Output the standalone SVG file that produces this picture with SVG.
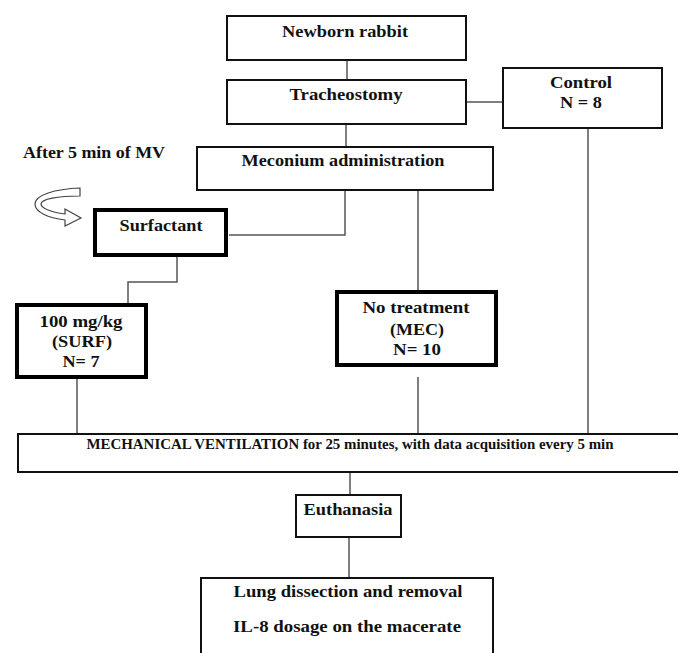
<svg xmlns="http://www.w3.org/2000/svg" width="678" height="653" viewBox="0 0 678 653">
<style>
.box{fill:#fff;stroke:#111;stroke-width:2}
.thick{fill:#fff;stroke:#000;stroke-width:4}
.c{fill:none;stroke:#555;stroke-width:1.5}
text{font-family:"Liberation Serif","Times New Roman",serif;font-weight:bold;font-size:16px;fill:#111;text-anchor:middle}
.mv{font-size:14px}
</style>
<rect width="678" height="653" fill="#fff"/>
<g id="connectors">
<path class="c" d="M347,61V79"/>
<path class="c" d="M467,102H502"/>
<path class="c" d="M346,125V146"/>
<path class="c" d="M345,191V235H229"/>
<path class="c" d="M418,191V290"/>
<path class="c" d="M588,129V433"/>
<path class="c" d="M177,257V282H128V303"/>
<path class="c" d="M77,379V433"/>
<path class="c" d="M418,377V433"/>
<path class="c" d="M350,473V494"/>
<path class="c" d="M349,538V577"/>
</g>
<g id="newborn"><rect class="box" x="227" y="16" width="239" height="44"/><text x="345" y="37" textLength="126" lengthAdjust="spacingAndGlyphs">Newborn rabbit</text></g>
<g id="tracheostomy"><rect class="box" x="227" y="80" width="239" height="44"/><text x="346" y="100" textLength="113" lengthAdjust="spacingAndGlyphs">Tracheostomy</text></g>
<g id="control"><rect class="box" x="503" y="68" width="159" height="60"/><text x="581" y="88" textLength="62" lengthAdjust="spacingAndGlyphs">Control</text><text x="581" y="108" textLength="42" lengthAdjust="spacingAndGlyphs">N = 8</text></g>
<g id="meconium"><rect class="box" x="197" y="147" width="296" height="43"/><text x="343" y="166" textLength="203" lengthAdjust="spacingAndGlyphs">Meconium administration</text></g>
<g id="after-label"><text x="94" y="158" textLength="142" lengthAdjust="spacingAndGlyphs">After 5 min of MV</text>
<path d="M80,188 C55,189 35,195 35,204 C35,212 48,218 65,220 L65,226 L81,218 L65,209 L65,214 C50,212 41,208 41,204 C41,199 58,196 80,196 Z" fill="#fff" stroke="#444" stroke-width="1.2"/></g>
<g id="surfactant"><rect class="thick" x="95" y="210" width="131" height="45"/><text x="161" y="231" textLength="83" lengthAdjust="spacingAndGlyphs">Surfactant</text></g>
<g id="surf"><rect class="thick" x="17" y="305" width="129" height="72"/><text x="81" y="327" textLength="83" lengthAdjust="spacingAndGlyphs">100 mg/kg</text><text x="82" y="347" textLength="60" lengthAdjust="spacingAndGlyphs">(SURF)</text><text x="81" y="367" textLength="37" lengthAdjust="spacingAndGlyphs">N= 7</text></g>
<g id="mec"><rect class="thick" x="337" y="292" width="159" height="73"/><text x="416" y="313" textLength="107" lengthAdjust="spacingAndGlyphs">No treatment</text><text x="417" y="335" textLength="54" lengthAdjust="spacingAndGlyphs">(MEC)</text><text x="417" y="355" textLength="48" lengthAdjust="spacingAndGlyphs">N= 10</text></g>
<g id="mv"><rect class="box" x="18" y="434" width="700" height="38"/><text class="mv" x="350" y="449" textLength="527" lengthAdjust="spacingAndGlyphs">MECHANICAL VENTILATION for 25 minutes, with data acquisition every 5 min</text></g>
<g id="euthanasia"><rect class="box" x="296" y="495" width="105" height="42"/><text x="348" y="515" textLength="89" lengthAdjust="spacingAndGlyphs">Euthanasia</text></g>
<g id="lung"><rect class="box" x="201" y="578" width="292" height="100"/><text x="348" y="597" textLength="229" lengthAdjust="spacingAndGlyphs">Lung dissection and removal</text><text x="347" y="632" textLength="228" lengthAdjust="spacingAndGlyphs">IL-8 dosage on the macerate</text></g>
</svg>
